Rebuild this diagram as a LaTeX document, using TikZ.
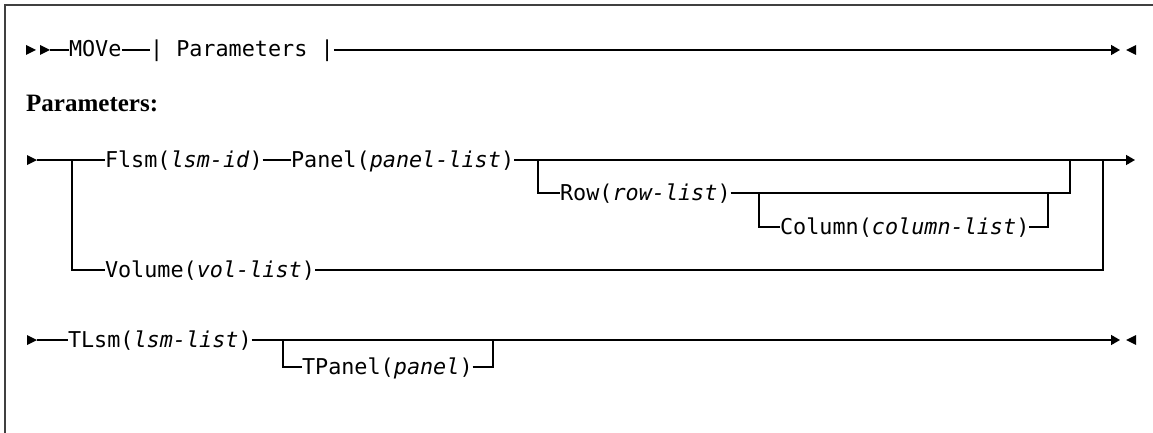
\documentclass[tikz,border=0pt]{standalone}
\usepackage{fontspec}
\setmonofont{DejaVu Sans Mono}
\newfontfamily\headfont{Liberation Serif}
\usetikzlibrary{arrows.meta}
\tikzset{
  rail/.style={line width=1.5pt},
  endrail/.style={rail,-{Triangle[length=9pt,width=10pt]}},
  kw/.style={font=\ttfamily\fontsize{21.8}{26}\selectfont,inner sep=0pt,outer sep=0pt,
    text height=14pt,text depth=0pt,anchor=west},
  heading/.style={font=\headfont\bfseries\fontsize{25}{30}\selectfont,inner sep=0pt,anchor=base west},
  frame/.style={line width=1.5pt,black!75},
  fwd/.pic={\fill (0,0)--(-10pt,5pt)--(-10pt,-5pt)--cycle;},
  bwd/.pic={\fill (0,0)--(10pt,5pt)--(10pt,-5pt)--cycle;}
}
\begin{document}
\begin{tikzpicture}[x=1pt,y=-1pt]
\useasboundingbox (0,0) rectangle (1153,433);
\draw[frame] (5,433) -- (5,5) -- (1153,5);

% main statement
\coordinate (s1) at (50,50);
\coordinate (end1) at (1120,50);
\pic at (36,50) {fwd};
\pic at (s1) {fwd};
\node[kw] (move) at (69,50) {MOVe};
\node[kw] (parms) at (150,50) {| Parameters |};
\draw[rail] (s1) -- (move.west);
\draw[rail] (move.east) -- (parms.west);
\draw[endrail] (parms.east) -- (end1);
\pic at (1126,50) {bwd};

\node[heading] (head) at (26,112) {Parameters:};

% fragment: Flsm/Panel or Volume
\coordinate (s2) at (37,160);
\coordinate (b1) at (72,160);
\coordinate (b2) at (538,160);
\coordinate (b3) at (759,193);
\coordinate (j3) at (1048,193);
\coordinate (j2) at (1070,160);
\coordinate (j1) at (1103,160);
\coordinate (end2) at (1135,160);
\pic at (s2) {fwd};
\node[kw] (flsm) at (105,160) {Flsm(\textit{lsm-id})};
\node[kw] (panel) at (291,160) {Panel(\textit{panel-list})};
\node[kw] (row) at (560,193) {Row(\textit{row-list})};
\node[kw] (col) at (780,227) {Column(\textit{column-list})};
\node[kw] (vol) at (105,270) {Volume(\textit{vol-list})};
\draw[rail] (s2) -- (flsm.west);
\draw[rail] (flsm.east) -- (panel.west);
\draw[endrail] (panel.east) -- (end2);
\draw[rail] (b1) |- (vol.west);
\draw[rail] (vol.east) -| (j1);
\draw[rail] (b2) |- (row.west);
\draw[rail] (row.east) -| (j2);
\draw[rail] (b3) |- (col.west);
\draw[rail] (col.east) -| (j3);

% TLsm line
\coordinate (s3) at (37,340);
\coordinate (b4) at (283,340);
\coordinate (j4) at (493,340);
\coordinate (end3) at (1120,340);
\pic at (s3) {fwd};
\node[kw] (tlsm) at (68,340) {TLsm(\textit{lsm-list})};
\node[kw] (tpanel) at (302,367) {TPanel(\textit{panel})};
\draw[rail] (s3) -- (tlsm.west);
\draw[endrail] (tlsm.east) -- (end3);
\pic at (1126,340) {bwd};
\draw[rail] (b4) |- (tpanel.west);
\draw[rail] (tpanel.east) -| (j4);
\end{tikzpicture}
\end{document}
